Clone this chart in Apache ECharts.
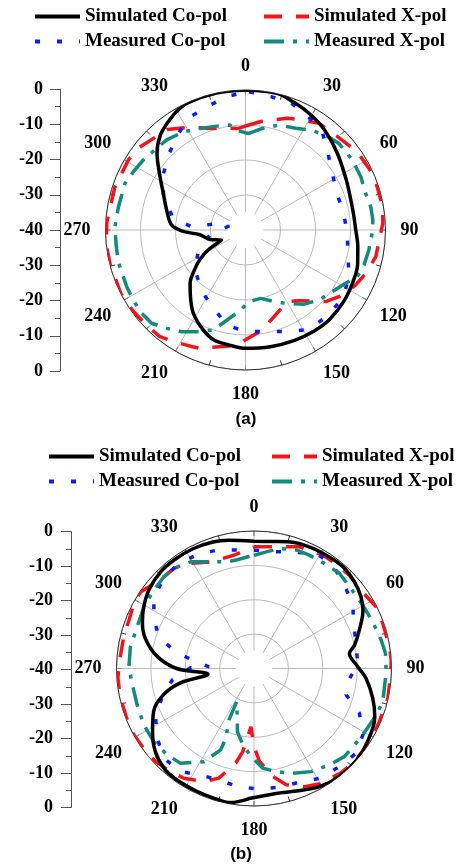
<!DOCTYPE html>
<html><head><meta charset="utf-8">
<script src="https://cdn.jsdelivr.net/npm/echarts@6/dist/echarts.min.js"></script>
<style>html,body{margin:0;padding:0;background:#fff}#c{width:458px;height:866px}</style>
</head><body><div id="c"></div>
<script>
// ---- data: [angle (deg), level (dB)] ----
const seriesNames = ['Simulated Co-pol', 'Simulated X-pol', 'Measured Co-pol', 'Measured X-pol'];
const angleTicks = [0, 30, 60, 90, 120, 150, 180, 210, 240, 270, 300, 330];
const levelTicks = [0, -10, -20, -30, -40];

const aSimCo = [[0,0],[8,0],[14,0],[20,-0.9],[27,-1.8],[35,-3],[42,-4.3],[50,-5.8],[57,-7],[65,-8],[74,-8.7],[82,-8.8],[90,-8.5],[98,-7.6],[107,-6.5],[116,-5.9],[126,-5.3],[137,-4.9],[146,-5.1],[156,-5.5],[168,-5.9],[180,-6.2],[188,-6.8],[196,-7.3],[203,-9],[212,-11.9],[220,-15.5],[226,-18],[232,-21.5],[237,-24.4],[242,-28],[247,-32.6],[255,-29.5],[264,-26.9],[269,-22],[274,-18.8],[284,-16.8],[294,-14.3],[302,-11.2],[311,-6.5],[318,-3.6],[324,-2.1],[330,-0.8],[336,-0.1],[348,0],[360,0]];
const aSimX = [[0,-10.3],[8,-8.7],[20.5,-5.9],[25.8,-4.9],[34.6,-3],[40,-2.8],[51.6,-1.7],[55,-1],[66,-0.3],[72,-0.4],[80,-0.3],[87,-0.7],[95,-1.7],[101.6,-2],[110,-3.5],[116.5,-4.8],[125.5,-7.2],[131.8,-9.3],[142.9,-14.7],[149.7,-16.3],[163,-13.6],[170.5,-11],[181.6,-8.1],[188,-6.5],[201,-3.8],[205,-3.3],[213,-2],[219,-0.9],[226,-0.8],[234,-0.4],[243,0],[256,-0.1],[264,0],[273,-0.3],[288,-0.7],[301,-1],[308,-1.6],[318,-3.3],[322,-3.6],[333,-6.9],[339,-8.9],[351,-10.6],[356,-10.9],[360,-10.3]];
const aMeasCo = [[1.5,-0.5],[10.7,-1.2],[19.5,-1.4],[28.5,-2.9],[38,-4.4],[45.6,-7.3],[56.9,-10.4],[69,-11.9],[80.4,-11.5],[92.8,-10.9],[104.6,-9.7],[115,-7.4],[125.2,-6.1],[136.4,-6.1],[147.4,-6.3],[157.6,-8.6],[168.8,-10.4],[180.8,-11.1],[191,-12.3],[202,-15.8],[215,-18.4],[231.6,-21.6],[247,-25.4],[262,-29.8],[284,-35.2],[280,-30.5],[273.5,-24.6],[279.2,-19.1],[292,-14.7],[303.8,-11.7],[314.2,-9.3],[325,-6.5],[332.9,-4.1],[342.5,-3.1],[352,-1.5],[360,-0.6]];
const aMeasX = [[0,-12.2],[2,-12.4],[9.4,-10.6],[17.7,-8.5],[26.3,-7.6],[33.1,-5.9],[40.2,-4.5],[47.2,-3.6],[56.8,-3.5],[65.2,-3.7],[73,-4.1],[79.5,-3.6],[85.5,-3.5],[91.5,-3.8],[99.2,-4.3],[106.5,-4.7],[112.7,-5.4],[118,-7.6],[125.4,-9.6],[133.6,-11],[141.7,-13],[151.3,-16.1],[158.3,-18],[167.5,-20],[177.2,-19.5],[183.4,-17.1],[187.7,-15.5],[197.8,-10],[205.6,-7.8],[212.1,-5.7],[218.7,-4],[225.2,-2.2],[232.2,-1.9],[239.6,-2.3],[244.5,-2.4],[256,-2.5],[264,-2.8],[271.5,-2.7],[280.4,-3.1],[291.2,-3.1],[297.5,-3.9],[304.4,-4.6],[312.6,-5.5],[318.8,-5.8],[327.7,-6.8],[335.9,-8.2],[344.5,-9.2],[351.6,-9.7],[354.4,-11.3],[360,-12.2]];

const bSimCo = [[0,-3],[8,-2.7],[16,-1.7],[25,-1.1],[33,-0.9],[41,-0.7],[49,-1.4],[56,-2.5],[62,-4.1],[70,-7.4],[77,-10],[81,-11.9],[89,-9.8],[95,-7.3],[104,-4.4],[112,-2.1],[123,-0.7],[132,0],[142,0],[151,-0.7],[161,-2.3],[170,-3.1],[181,-2.3],[186,-1.2],[190,-0.4],[197,-0.5],[205,-0.6],[215,-0.6],[222,-0.9],[230,-2.5],[238,-5.2],[247,-8.3],[254,-12.7],[259,-18.2],[263,-26.5],[270,-17.5],[277,-11.7],[285,-7.4],[292,-5],[299,-3.3],[307,-1.8],[316,-0.9],[324,-0.8],[333,-0.9],[342,-1.3],[349,-2],[360,-3]];
const bSimX = [[0,-4.6],[11.8,-3.8],[20.5,-2.2],[31.2,-1.4],[36.4,-1.4],[45.6,-1.2],[52.8,-1.5],[63.2,-0.2],[70.7,-0.3],[80.9,-0.1],[86.5,0],[92.7,-0.2],[102.6,-0.1],[113,-0.4],[122,0],[133.8,-0.2],[140.4,-0.5],[150,-1.3],[156.9,-2.6],[164.5,-4.9],[170,-8.1],[176.6,-12.9],[180,-17.3],[183,-23],[187.7,-15.6],[190.9,-12],[197.8,-6.5],[203.9,-4],[212.6,-2.1],[219,-1.4],[226.6,-0.6],[232.5,-0.3],[241,-0.1],[247.9,-0.2],[257.4,-0.2],[265.9,-0.3],[272,-0.7],[283.7,-1],[291.2,-1],[298.5,-0.3],[304,-0.2],[307.9,-1.3],[315.5,-2.6],[321.3,-2.7],[328.9,-4.3],[337.8,-6.5],[350.3,-6.5],[360,-4.6]];
const bMeasCo = [[0,-5.6],[10.8,-5.4],[28.4,-1.9],[37.3,-2.2],[47.3,-4.2],[57.3,-5.8],[65.6,-8.2],[77,-9.5],[88,-9.8],[98,-12.5],[106,-12.1],[113,-6.7],[121.4,-2.9],[129.7,-1.4],[139,-2.2],[148.5,-2.6],[158.2,-4.4],[168,-4.7],[177.4,-4.9],[187.8,-5.3],[197.5,-6],[206.7,-5.3],[215.5,-3.2],[225.1,-3],[234.2,-5.3],[243.9,-8.1],[253,-12.1],[262,-16],[270.7,-21.5],[272,-26.9],[277.8,-21.9],[282,-16.5],[288.5,-10.8],[296.6,-7.4],[305.6,-4.2],[315,-2.9],[324.4,-2.4],[334.3,-3],[343.5,-4],[353,-5.3],[360,-5.6]];
const bMeasX = [[0,-7.1],[6,-5.9],[12,-4.3],[19.6,-3.4],[26,-3.3],[33.8,-3.2],[41.9,-2.8],[53.2,-3.5],[59.7,-3.4],[68.5,-2.9],[77.4,-2.1],[83.4,-1.5],[88.5,-1.6],[92.8,-1.6],[104.5,-1.3],[111,-2],[118.7,-2.8],[126.2,-3.2],[134.3,-3.3],[142,-4.4],[151,-5.7],[159.7,-7.5],[167.9,-9.3],[175,-10.9],[181.8,-14.4],[188.3,-17.5],[194.7,-21],[198,-24.3],[207.5,-29.1],[206,-23.3],[202,-18.1],[202.3,-14.4],[208.3,-9.2],[217.8,-5.1],[225.1,-4.4],[233.8,-3.9],[242.9,-4],[252.6,-4.4],[262.3,-4.3],[270.8,-3.6],[280,-3.5],[289.7,-3.9],[299.3,-3.3],[308,-3],[315.5,-2.6],[321.3,-2.7],[329.3,-3.9],[337.8,-6.5],[346,-8],[350.7,-8],[357.4,-7.4],[360,-7.1]];

// ---- layout / style ----
const FONT = 'Liberation Serif';
const plots = [
  {center: [245.5, 230], radius: 140, axisLeft: 60, axisTop: 89, axisH: 282, labelMargin: 17,
   legendLeft: [33, 262], legendTop: [7, 32], label: '(a)', labelPos: [246, 419],
   data: [aSimCo, aSimX, aMeasCo, aMeasX]},
  {center: [254, 668.5], radius: 137.5, axisLeft: 71, axisTop: 531.5, axisH: 276, labelMargin: 18,
   legendLeft: [47, 270], legendTop: [447, 472], label: '(b)', labelPos: [241, 854],
   data: [bSimCo, bSimX, bMeasCo, bMeasX]}
];
const styles = [
  {color: '#000000', width: 3.5, type: 'solid'},
  {color: '#f2141b', width: 3.5, type: [18, 14]},
  {color: '#0a1ef2', width: 3.5, type: [5, 17]},
  {color: '#14897e', width: 3.5, type: [20, 9, 4, 9]}
];

const option = {
  animation: false,
  backgroundColor: '#fff',
  polar: [], angleAxis: [], radiusAxis: [], grid: [], xAxis: [], yAxis: [],
  legend: [], series: [], graphic: []
};

plots.forEach((p, pi) => {
  option.polar.push({center: p.center, radius: p.radius});
  option.angleAxis.push({
    polarIndex: pi, type: 'value', min: 0, max: 360, interval: 30,
    startAngle: 90, clockwise: true,
    axisLine: {show: true, lineStyle: {color: '#333', width: 1}},
    axisTick: {show: true, inside: true, length: 5, lineStyle: {color: '#333', width: 1}},
    minorTick: {show: true, splitNumber: 2, length: 5, lineStyle: {color: '#333', width: 1}},
    splitLine: {show: true, lineStyle: {color: '#aaa', width: 0.8}},
    axisLabel: {show: true, margin: 15, color: '#000', fontFamily: FONT, fontWeight: 'bold', fontSize: 18,
      formatter: v => angleTicks.indexOf(v) >= 0 ? String(v) : ''}
  });
  option.radiusAxis.push({
    polarIndex: pi, type: 'value', min: -40, max: 0, interval: 10,
    axisLine: {show: false}, axisTick: {show: false}, axisLabel: {show: false},
    splitLine: {show: true, lineStyle: {color: '#aaa', width: 0.8}}
  });
  // linear dB scale at the left (0 .. -40 .. 0)
  option.grid.push({left: p.axisLeft, top: p.axisTop, height: p.axisH, width: 10});
  option.xAxis.push({gridIndex: pi, type: 'value', show: false});
  option.yAxis.push({
    gridIndex: pi, type: 'value', min: 0, max: 80, interval: 10,
    axisLine: {show: true, lineStyle: {color: '#555', width: 1}},
    axisTick: {show: true, length: 10, lineStyle: {color: '#555'}},
    minorTick: {show: true, splitNumber: 2, length: 5, lineStyle: {color: '#555'}},
    splitLine: {show: false},
    axisLabel: {margin: p.labelMargin, color: '#000', fontFamily: FONT, fontWeight: 'bold', fontSize: 18,
      formatter: v => { const d = v <= 40 ? v : 80 - v; const t = -d; return levelTicks.indexOf(t) >= 0 ? (t === 0 ? '0' : String(t)) : ''; }}
  });
  seriesNames.forEach((name, si) => {
    const s = styles[si];
    option.series.push({
      name: name, type: 'line', coordinateSystem: 'polar', polarIndex: pi,
      symbol: 'none', showSymbol: false, smooth: si === 0 ? 0.35 : false,
      lineStyle: {color: s.color, width: s.width, type: s.type, cap: 'butt'},
      itemStyle: {color: s.color},
      z: si === 0 ? 3 : 2,
      data: p.data[si].map(d => [d[1], d[0]])
    });
    const col = si % 2, row = Math.floor(si / 2);
    option.legend.push({
      data: [name], left: p.legendLeft[col], top: p.legendTop[row],
      itemWidth: 45, itemHeight: 14, padding: 0, selectedMode: false,
      itemStyle: {opacity: 0},
      lineStyle: {width: 4, color: s.color, type: s.type, opacity: 1},
      textStyle: {fontFamily: FONT, fontWeight: 'bold', fontSize: 19, color: '#000'}
    });
  });
  option.graphic.push({type: 'circle', shape: {cx: p.center[0], cy: p.center[1], r: 18}, style: {fill: '#fff'}, z: 1, silent: true});
  option.graphic.push({type: 'text', x: p.labelPos[0], y: p.labelPos[1], z: 5,
    style: {text: p.label, font: 'bold 17px "Liberation Sans"', fill: '#000', textAlign: 'center', textVerticalAlign: 'middle', align: 'center', verticalAlign: 'middle'}});
});

const chart = echarts.init(document.getElementById('c'), null, {renderer: 'canvas'});
chart.setOption(option);
</script></body></html>
